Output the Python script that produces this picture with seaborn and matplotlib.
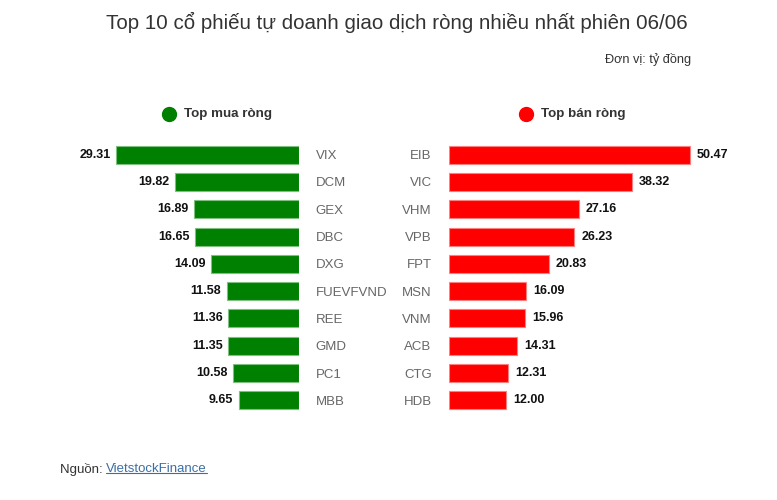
import matplotlib
matplotlib.use("Agg")
import matplotlib.pyplot as plt
import seaborn as sns
import pandas as pd
from matplotlib.lines import Line2D

buy_tickers = ["VIX", "DCM", "GEX", "DBC", "DXG", "FUEVFVND", "REE", "GMD", "PC1", "MBB"]
buy_values = [29.31, 19.82, 16.89, 16.65, 14.09, 11.58, 11.36, 11.35, 10.58, 9.65]
sell_tickers = ["EIB", "VIC", "VHM", "VPB", "FPT", "MSN", "VNM", "ACB", "CTG", "HDB"]
sell_values = [50.47, 38.32, 27.16, 26.23, 20.83, 16.09, 15.96, 14.31, 12.31, 12.00]

title = "Top 10 cổ phiếu tự doanh giao dịch ròng nhiều nhất phiên 06/06"
unit = "Đơn vị: tỷ đồng"
legend_buy = "Top mua ròng"
legend_sell = "Top bán ròng"
source_prefix = "Nguồn: "
source_name = "VietstockFinance"

sns.set_style("white")
plt.rcParams["font.family"] = ["Liberation Sans", "DejaVu Sans"]

W, H = 777, 500
fig = plt.figure(figsize=(W / 100, H / 100), dpi=100)
fig.patch.set_facecolor("white")

def fx(px):
    return px / W

def fy(py):
    return 1 - py / H

green = "#008000"
red = "#ff0000"

ax_top, ax_bot = 141, 414
axL = fig.add_axes([fx(60), fy(ax_bot), fx(299 - 60), (ax_bot - ax_top) / H])
axR = fig.add_axes([fx(449), fy(ax_bot), fx(740 - 449), (ax_bot - ax_top) / H])

df_buy = pd.DataFrame({"ticker": buy_tickers, "value": buy_values})
df_sell = pd.DataFrame({"ticker": sell_tickers, "value": sell_values})

sns.barplot(data=df_buy, x="value", y="ticker", ax=axL, color=green, saturation=1,
            width=0.66, edgecolor="#7fbf7f", linewidth=0.8)
sns.barplot(data=df_sell, x="value", y="ticker", ax=axR, color=red, saturation=1,
            width=0.66, edgecolor="#ff7f7f", linewidth=0.8)

axL.set_xlim(38.3, 0)
axR.set_xlim(0, 60.9)
for ax in (axL, axR):
    ax.set_ylim(9.5, -0.5)
    ax.set_xlabel("")
    ax.set_ylabel("")
    ax.set_xticks([])
    for s in ax.spines.values():
        s.set_visible(False)
    ax.set_facecolor("none")

axL.yaxis.tick_right()
axL.tick_params(axis="y", length=0, pad=12, labelsize=9.5, labelcolor="#666666")
axR.tick_params(axis="y", length=0, pad=12.5, labelsize=9.5, labelcolor="#666666")

axL.bar_label(axL.containers[0], labels=[f"{v:.2f}" for v in buy_values], padding=4,
              fontsize=9, fontweight="bold", color="#111111")
axR.bar_label(axR.containers[0], labels=[f"{v:.2f}" for v in sell_values], padding=5,
              fontsize=9, fontweight="bold", color="#111111")

fig.text(fx(397), fy(22), title, ha="center", va="center", fontsize=14.8, color="#333333")
fig.text(fx(691), fy(60), unit, ha="right", va="center", fontsize=9.2, color="#333333")

# legend markers
fig.add_artist(Line2D([fx(169)], [fy(114)], marker="o", markersize=10, color=green,
                      linestyle="none", transform=fig.transFigure))
fig.text(fx(184), fy(114), legend_buy, ha="left", va="center", fontsize=9.6,
         fontweight="bold", color="#333333")
fig.add_artist(Line2D([fx(526)], [fy(114)], marker="o", markersize=10, color=red,
                      linestyle="none", transform=fig.transFigure))
fig.text(fx(541), fy(114), legend_sell, ha="left", va="center", fontsize=9.6,
         fontweight="bold", color="#333333")

t1 = fig.text(fx(60), fy(469), source_prefix, ha="left", va="center", fontsize=9.5,
              color="#333333")
fig.canvas.draw()
r = fig.canvas.get_renderer()
bb = t1.get_window_extent(r)
t2 = fig.text(bb.x1 / W, fy(469), source_name, ha="left", va="center", fontsize=9.5,
              color="#3b6ea5")
fig.canvas.draw()
bb2 = t2.get_window_extent(r)
uy = (bb2.y0 + 2.5) / H
fig.add_artist(Line2D([bb2.x0 / W, bb2.x1 / W], [uy, uy], color="#3b6ea5", linewidth=0.8,
                      transform=fig.transFigure))

fig.savefig("out.png", dpi=100, facecolor="white")
